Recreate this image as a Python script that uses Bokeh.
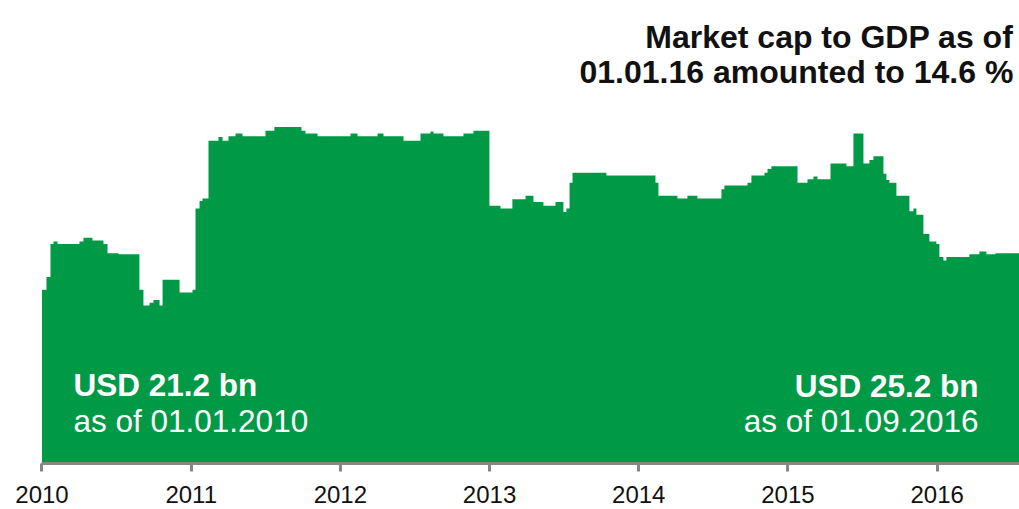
from bokeh.plotting import figure
from bokeh.models import ColumnDataSource, Range1d, FixedTicker, Label
from bokeh.embed import file_html
from bokeh.resources import INLINE

# Weekly market capitalisation, USD bn (step starts as decimal years)
dates = [
    2010.000, 2010.030, 2010.057, 2010.077, 2010.104, 2010.251, 2010.278, 2010.338, 2010.412, 2010.439,
    2010.513, 2010.653, 2010.680, 2010.721, 2010.747, 2010.788, 2010.808, 2010.922, 2011.009, 2011.029,
    2011.056, 2011.076, 2011.116, 2011.183, 2011.210, 2011.250, 2011.297, 2011.344, 2011.498, 2011.558,
    2011.739, 2011.766, 2011.847, 2012.068, 2012.115, 2012.249, 2012.289, 2012.423, 2012.537, 2012.604,
    2012.624, 2012.691, 2012.825, 2012.892, 2012.999, 2013.073, 2013.153, 2013.241, 2013.294, 2013.361,
    2013.442, 2013.495, 2013.515, 2013.536, 2013.556, 2013.783, 2014.112, 2014.132, 2014.259, 2014.326,
    2014.393, 2014.554, 2014.574, 2014.729, 2014.755, 2014.843, 2014.863, 2014.889, 2015.064, 2015.131,
    2015.171, 2015.198, 2015.285, 2015.392, 2015.439, 2015.506, 2015.546, 2015.573, 2015.640, 2015.660,
    2015.680, 2015.727, 2015.814, 2015.841, 2015.861, 2015.908, 2015.948, 2015.995, 2016.015, 2016.042,
    2016.062, 2016.216, 2016.283, 2016.330, 2016.391, 2016.667,
]
market_cap_bn = [
    21.2, 22.6, 26.2, 26.5, 26.2, 26.5, 26.9, 26.6, 26.2, 25.2,
    25.1, 21.2, 19.5, 19.8, 20.1, 19.5, 22.3, 20.9, 21.2, 30.1,
    30.9, 31.2, 37.5, 37.9, 37.5, 38.0, 38.3, 38.0, 38.6, 39.0,
    38.6, 38.3, 38.0, 38.3, 38.0, 38.3, 38.0, 37.5, 38.3, 38.5,
    38.3, 38.0, 38.3, 38.6, 30.4, 30.1, 31.1, 31.5, 30.8, 30.4,
    30.8, 29.7, 30.1, 32.9, 34.0, 33.7, 32.9, 31.5, 31.2, 31.5,
    31.2, 32.2, 32.6, 32.9, 33.7, 34.0, 34.4, 34.7, 32.9, 33.3,
    33.6, 33.3, 35.0, 34.7, 38.3, 35.0, 35.4, 35.8, 33.9, 33.2,
    32.9, 31.5, 29.8, 30.1, 29.4, 27.3, 26.5, 26.2, 24.8, 24.4,
    24.8, 25.1, 25.4, 25.1, 25.2, 25.2,
]
tick_years = [2010, 2011, 2012, 2013, 2014, 2015, 2016]
tick_labels = ["2010", "2011", "2012", "2013", "2014", "2015", "2016"]

start_value = market_cap_bn[0]
end_value = market_cap_bn[-1]

GREEN = "#009a46"
FONT = "Liberation Sans"

source = ColumnDataSource(dict(x=dates, top=market_cap_bn, bottom=[0] * len(dates)))

p = figure(
    width=1019, height=509,
    x_range=Range1d(2009.99, 2016.552),
    y_range=Range1d(2.22, 52.83),
    y_axis_type=None,
    toolbar_location=None,
    output_backend="svg",
    min_border_left=40, min_border_right=0, min_border_top=0, min_border_bottom=46,
)
p.outline_line_color = None
p.xgrid.visible = False
p.ygrid.visible = False
p.background_fill_color = "white"
p.border_fill_color = "white"

p.varea_step(x="x", y1="bottom", y2="top", step_mode="after", source=source,
             fill_color=GREEN, fill_alpha=1.0)

ax = p.xaxis[0]
ax.ticker = FixedTicker(ticks=tick_years, minor_ticks=[])
ax.major_label_overrides = {y: s for y, s in zip(tick_years, tick_labels)}
ax.bounds = (2010, 2016.552)
ax.axis_line_color = "#868686"
ax.axis_line_width = 3
ax.major_tick_line_color = "#868686"
ax.major_tick_line_width = 3
ax.major_tick_out = 8
ax.major_tick_in = 0
ax.minor_tick_out = 0
ax.minor_tick_in = 0
ax.major_label_standoff = 14
ax.major_label_text_font = FONT
ax.major_label_text_font_size = "24px"
ax.major_label_text_color = "#111111"

# headline, top right
for txt, yv in [("Market cap to GDP as of", 48.89), ("01.01.16 amounted to 14.6 %", 44.96)]:
    p.add_layout(Label(x=2016.511, y=yv, text=txt, text_align="right",
                       text_baseline="alphabetic", text_font=FONT,
                       text_font_size="32px", text_font_style="bold",
                       text_color="#111111"))

# start / end annotations inside the area
p.add_layout(Label(x=2010.211, y=10.85, text=f"USD {start_value} bn", text_align="left",
                   text_baseline="alphabetic", text_font=FONT, text_font_size="31.5px",
                   text_font_style="bold", text_color="white"))
p.add_layout(Label(x=2010.211, y=6.92, text="as of 01.01.2010", text_align="left",
                   text_baseline="alphabetic", text_font=FONT, text_font_size="31.5px",
                   text_color="white"))
p.add_layout(Label(x=2016.277, y=10.7, text=f"USD {end_value} bn", text_align="right",
                   text_baseline="alphabetic", text_font=FONT, text_font_size="31.5px",
                   text_font_style="bold", text_color="white"))
p.add_layout(Label(x=2016.277, y=6.83, text="as of 01.09.2016", text_align="right",
                   text_baseline="alphabetic", text_font=FONT, text_font_size="31.5px",
                   text_color="white"))

open("out.html", "w").write(file_html(p, INLINE))
